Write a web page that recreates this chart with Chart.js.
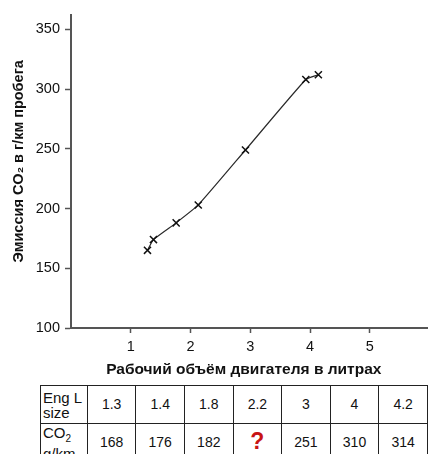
<!DOCTYPE html>
<html>
<head>
<meta charset="utf-8">
<script src="https://cdn.jsdelivr.net/npm/chart.js@4"></script>
<style>
    body { margin: 0; background: #fff; font-family: "Liberation Sans", Arial, sans-serif; }
    #wrap { position: relative; width: 428px; height: 454px; overflow: hidden; }
    #chartBox { position: absolute; left: 0; top: 0; width: 436px; height: 382px; }
    table { position: absolute; left: 40px; top: 385px; border-collapse: collapse; table-layout: fixed; font-size: 14px; color: #111; }
    td { border: 1.5px solid #222; height: 37px; width: 48px; text-align: center; padding: 0; line-height: 15px; }
    td.head { text-align: left; padding-left: 2px; width: 44px; font-size: 15px; }
    .q { color: #c81414; font-weight: bold; font-size: 23px; }
</style>
</head>
<body>
<div id="wrap">
    <div id="chartBox"><canvas id="co2Chart"></canvas></div>
    <table id="dataTable"></table>
</div>
<script>
// points
const engineSize = [1.28, 1.38, 1.76, 2.13, 2.92, 3.93, 4.14];
const co2Emission = [165, 174, 188, 203, 249, 308, 312];

const xTicks = [1, 2, 3, 4, 5];
const yTicks = [100, 150, 200, 250, 300, 350];

// values printed in the table under the chart
const tableSizes = ['1.3', '1.4', '1.8', '2.2', '3', '4', '4.2'];
const tableCo2 = ['168', '176', '182', '?', '251', '310', '314'];

const fontFamily = '"Liberation Sans", Arial, sans-serif';
const axisColor = '#555';

// build the table
const table = document.getElementById('dataTable');
let row1 = '<tr><td class="head">Eng L<br>size</td>';
tableSizes.forEach(v => { row1 += `<td>${v}</td>`; });
row1 += '</tr>';
let row2 = '<tr><td class="head">CO<sub style="font-size:10px">2</sub><br>g/km</td>';
tableCo2.forEach(v => {
    row2 += v === '?' ? '<td><span class="q">?</span></td>' : `<td>${v}</td>`;
});
row2 += '</tr>';
table.innerHTML = row1 + row2;

const ctx = document.getElementById('co2Chart').getContext('2d');
new Chart(ctx, {
    type: 'line',
    data: {
        datasets: [{
            data: engineSize.map((x, i) => ({ x: x, y: co2Emission[i] })),
            borderColor: '#2a2a2a',
            borderWidth: 1.2,
            tension: 0.15,
            pointStyle: 'crossRot',
            pointRadius: 5,
            pointBorderColor: '#111',
            pointBorderWidth: 1.5,
            fill: false
        }]
    },
    options: {
        responsive: true,
        maintainAspectRatio: false,
        animation: false,
        layout: { padding: { top: 15, right: 0, left: 0, bottom: 0 } },
        plugins: {
            legend: { display: false },
            tooltip: { enabled: false }
        },
        scales: {
            x: {
                type: 'linear',
                min: 0,
                max: 6,
                afterBuildTicks: scale => { scale.ticks = xTicks.map(v => ({ value: v })); },
                afterFit: scale => { scale.height = 54; },
                border: { color: axisColor, width: 2 },
                grid: { drawOnChartArea: false, tickLength: 5, color: axisColor, tickWidth: 1.5 },
                ticks: {
                    color: '#111',
                    padding: 5,
                    font: { family: fontFamily, size: 14.5 }
                },
                title: {
                    display: true,
                    text: 'Рабочий объём двигателя в литрах\u00A0\u00A0\u00A0',
                    color: '#111',
                    padding: { top: 0, bottom: 3 },
                    font: { family: fontFamily, size: 15.5, weight: 'bold' }
                }
            },
            y: {
                type: 'linear',
                min: 100,
                max: 362,
                afterBuildTicks: scale => { scale.ticks = yTicks.map(v => ({ value: v })); },
                afterFit: scale => { scale.width = 71; },
                border: { color: axisColor, width: 2 },
                grid: { drawOnChartArea: false, tickLength: 6, color: axisColor, tickWidth: 1.5 },
                ticks: {
                    color: '#111',
                    padding: 5,
                    font: { family: fontFamily, size: 14.5 }
                },
                title: {
                    display: true,
                    text: '\u00A0\u00A0\u00A0\u00A0\u00A0Эмиссия CO₂ в г/км пробега',
                    color: '#111',
                    padding: { top: 10, bottom: 0 },
                    font: { family: fontFamily, size: 14.5, weight: 'bold' }
                }
            }
        }
    }
});
</script>
</body>
</html>
